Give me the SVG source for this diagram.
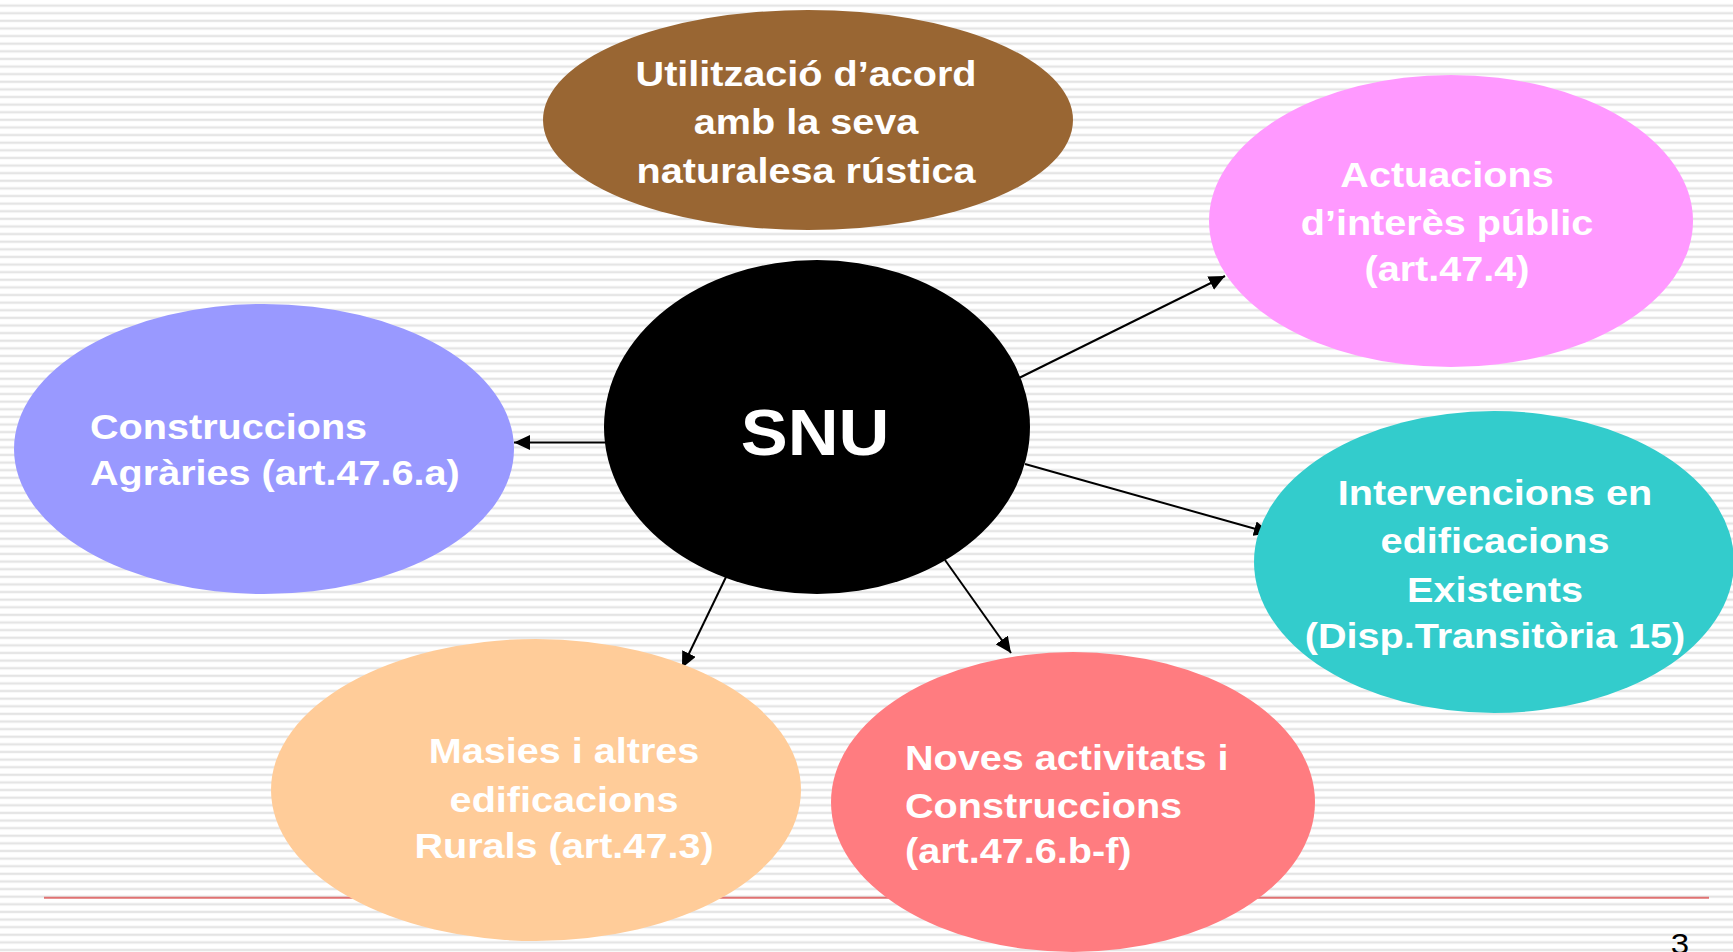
<svg xmlns="http://www.w3.org/2000/svg" width="1733" height="952" viewBox="0 0 1733 952">
  <style>
    .t { font-family: "Liberation Sans", Arial, sans-serif; font-weight: bold; font-size: 36px; fill: #ffffff; }
    .c { text-anchor: middle; }
    .conn line { stroke: #000000; stroke-width: 2; marker-end: url(#arrow); }
  </style>
  <defs>
    <pattern id="stripes" patternUnits="userSpaceOnUse" width="20" height="7.616">
      <rect x="0" y="0" width="20" height="7.616" fill="#ffffff"/>
      <rect x="0" y="4.3" width="20" height="2.6" fill="#eeeeee"/>
      <rect x="0" y="4.8" width="20" height="1.6" fill="#e4e4e4"/>
    </pattern>
    <marker id="arrow" markerUnits="userSpaceOnUse" markerWidth="17" markerHeight="15" refX="16" refY="7.5" orient="auto">
      <path d="M0,0 L16,7.5 L0,15 z" fill="#000000"/>
    </marker>
  </defs>

  <rect x="0" y="0" width="1733" height="952" fill="url(#stripes)"/>
  <line x1="44" y1="897.7" x2="1709" y2="897.7" stroke="#e07272" stroke-width="2"/>

  <g id="conns" class="conn">
    <line x1="605" y1="442.5" x2="514" y2="442.5"/>
    <line x1="1019" y1="378" x2="1225" y2="276"/>
    <line x1="1025" y1="464" x2="1270" y2="533"/>
    <line x1="726" y1="577" x2="682" y2="668"/>
    <line x1="945" y1="560" x2="1011" y2="653"/>
  </g>

  <g id="node-utilitzacio">
    <ellipse cx="808" cy="120" rx="265" ry="110" fill="#996633"/>
    <g transform="translate(806,0) scale(1.1,1)">
      <text class="t c" x="0" y="86">Utilització d’acord</text>
      <text class="t c" x="0" y="134">amb la seva</text>
      <text class="t c" x="0" y="183">naturalesa rústica</text>
    </g>
  </g>

  <g id="node-actuacions">
    <ellipse cx="1451" cy="221" rx="242" ry="146" fill="#ff99ff"/>
    <g transform="translate(1447,0) scale(1.1,1)">
      <text class="t c" x="0" y="187">Actuacions</text>
      <text class="t c" x="0" y="235">d’interès públic</text>
      <text class="t c" x="0" y="281">(art.47.4)</text>
    </g>
  </g>

  <g id="node-agraries">
    <ellipse cx="264" cy="449" rx="250" ry="145" fill="#9999ff"/>
    <g transform="translate(90,0) scale(1.1,1)">
      <text class="t" x="0" y="439">Construccions</text>
      <text class="t" x="0" y="485">Agràries (art.47.6.a)</text>
    </g>
  </g>

  <g id="node-snu">
    <ellipse cx="817" cy="427" rx="213" ry="167" fill="#000000"/>
    <g transform="translate(815,0) scale(1.1,1)">
      <text class="t c" x="0" y="455" style="font-size:64px">SNU</text>
    </g>
  </g>

  <g id="node-intervencions">
    <ellipse cx="1494" cy="562" rx="240" ry="151" fill="#33cccc"/>
    <g transform="translate(1495,0) scale(1.1,1)">
      <text class="t c" x="0" y="505">Intervencions en</text>
      <text class="t c" x="0" y="553">edificacions</text>
      <text class="t c" x="0" y="602">Existents</text>
      <text class="t c" x="0" y="648">(Disp.Transitòria 15)</text>
    </g>
  </g>

  <g id="node-masies">
    <ellipse cx="536" cy="790" rx="265" ry="151" fill="#ffcc99"/>
    <g transform="translate(564,0) scale(1.1,1)">
      <text class="t c" x="0" y="763">Masies i altres</text>
      <text class="t c" x="0" y="812">edificacions</text>
      <text class="t c" x="0" y="858">Rurals (art.47.3)</text>
    </g>
  </g>

  <g id="node-noves">
    <ellipse cx="1073" cy="802" rx="242" ry="150" fill="#ff7c80"/>
    <g transform="translate(905,0) scale(1.1,1)">
      <text class="t" x="0" y="770">Noves activitats i</text>
      <text class="t" x="0" y="818">Construccions</text>
      <text class="t" x="0" y="863">(art.47.6.b-f)</text>
    </g>
  </g>

  <g id="page-number" transform="translate(1680,0) scale(1.1,1)">
    <text x="0" y="954" text-anchor="middle" style="font-family:'Liberation Sans', Arial, sans-serif; font-size:30px; fill:#000000">3</text>
  </g>
</svg>
